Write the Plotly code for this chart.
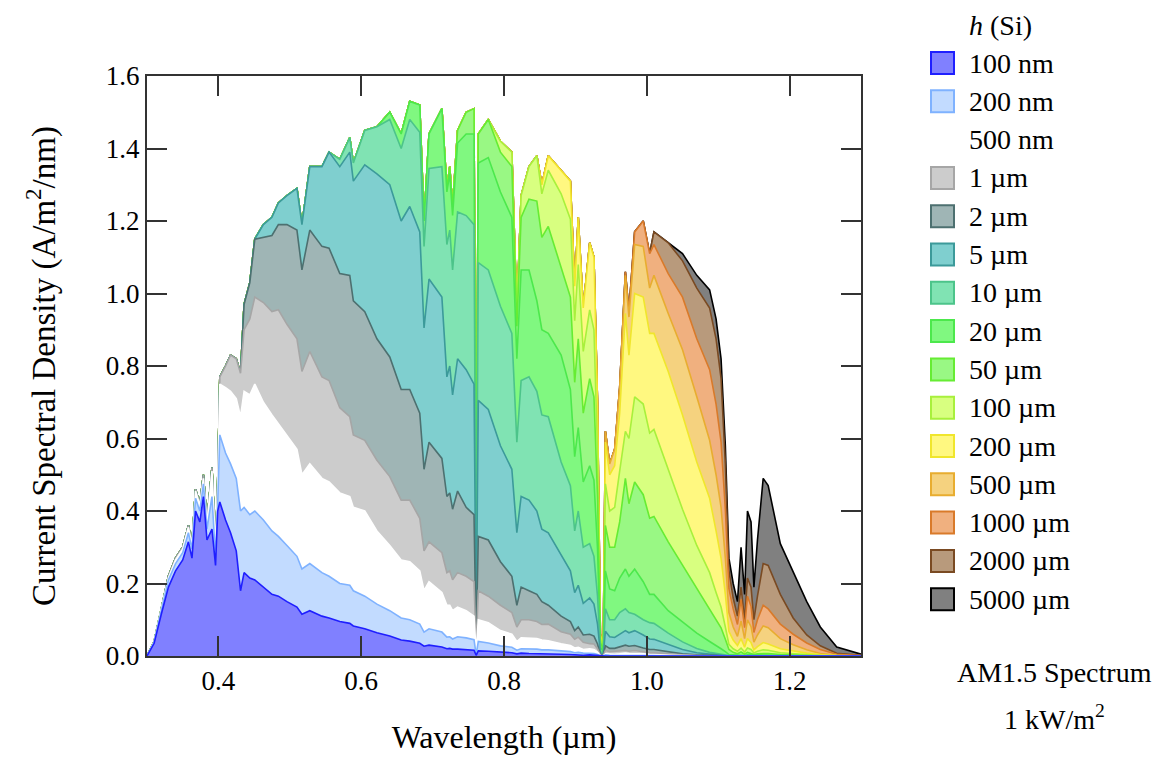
import plotly.graph_objects as go

# Wavelength grid (µm)
wavelength = [
    0.300, 0.310, 0.320, 0.330, 0.340, 0.350, 0.358, 0.363, 0.368, 0.374,
    0.379, 0.384, 0.391, 0.396, 0.399, 0.402, 0.410, 0.417, 0.425, 0.431,
    0.436, 0.444, 0.451, 0.463, 0.475, 0.484, 0.496, 0.510, 0.517, 0.528,
    0.545, 0.555, 0.570, 0.584, 0.589, 0.605, 0.622, 0.640, 0.656, 0.668,
    0.682, 0.688, 0.695, 0.713, 0.720, 0.724, 0.728, 0.735, 0.747, 0.758,
    0.761, 0.764, 0.778, 0.795, 0.811, 0.818, 0.824, 0.835, 0.846, 0.853,
    0.862, 0.880, 0.893, 0.899, 0.904, 0.911, 0.920, 0.926, 0.931, 0.935,
    0.939, 0.942, 0.948, 0.955, 0.962, 0.970, 0.975, 0.983, 0.995, 1.004,
    1.010, 1.030, 1.050, 1.070, 1.088, 1.097, 1.104, 1.110, 1.115, 1.121,
    1.127, 1.132, 1.137, 1.141, 1.146, 1.150, 1.155, 1.163, 1.170, 1.187,
    1.205, 1.224, 1.243, 1.266, 1.300]

# Current spectral density (A/m^2/nm) absorbed in a Si layer of thickness h
j_5000um = [
    0.00, 0.04, 0.13, 0.22, 0.27, 0.30, 0.36, 0.31, 0.46, 0.42,
    0.50, 0.37, 0.52, 0.30, 0.48, 0.77, 0.80, 0.83, 0.82, 0.78,
    0.97, 1.03, 1.15, 1.19, 1.21, 1.25, 1.27, 1.29, 1.19, 1.35,
    1.35, 1.39, 1.37, 1.43, 1.36, 1.45, 1.46, 1.50, 1.44, 1.53,
    1.52, 1.20, 1.44, 1.51, 1.29, 1.35, 1.24, 1.45, 1.50, 1.51,
    0.14, 1.44, 1.48, 1.42, 1.39, 0.95, 1.27, 1.35, 1.38, 1.30,
    1.38, 1.34, 1.31, 1.02, 1.21, 0.96, 1.14, 1.10, 0.70, 0.06,
    0.03, 0.62, 0.53, 0.57, 0.74, 1.06, 0.95, 1.17, 1.20, 1.11,
    1.17, 1.14, 1.11, 1.05, 1.01, 0.93, 0.82, 0.58, 0.27, 0.20,
    0.15, 0.30, 0.17, 0.40, 0.37, 0.19, 0.32, 0.49, 0.47, 0.31,
    0.23, 0.15, 0.08, 0.025, 0.005]

j_2000um = [
    0.00, 0.04, 0.13, 0.22, 0.27, 0.30, 0.36, 0.31, 0.46, 0.42,
    0.50, 0.37, 0.52, 0.30, 0.48, 0.77, 0.80, 0.83, 0.82, 0.78,
    0.97, 1.03, 1.15, 1.19, 1.21, 1.25, 1.27, 1.29, 1.19, 1.35,
    1.35, 1.39, 1.37, 1.43, 1.36, 1.45, 1.46, 1.50, 1.44, 1.53,
    1.52, 1.20, 1.44, 1.51, 1.29, 1.35, 1.24, 1.45, 1.50, 1.51,
    0.14, 1.44, 1.48, 1.42, 1.39, 0.95, 1.27, 1.35, 1.38, 1.30,
    1.38, 1.34, 1.31, 1.02, 1.21, 0.96, 1.14, 1.10, 0.70, 0.06,
    0.03, 0.62, 0.53, 0.57, 0.74, 1.06, 0.95, 1.17, 1.20, 1.11,
    1.17, 1.14, 1.09, 1.015, 0.96, 0.875, 0.765, 0.53, 0.235, 0.16,
    0.11, 0.19, 0.10, 0.215, 0.19, 0.10, 0.165, 0.255, 0.25, 0.17,
    0.105, 0.058, 0.028, 0.0075, 0.002]

j_1000um = [
    0.00, 0.04, 0.13, 0.22, 0.27, 0.30, 0.36, 0.31, 0.46, 0.42,
    0.50, 0.37, 0.52, 0.30, 0.48, 0.77, 0.80, 0.83, 0.82, 0.78,
    0.97, 1.03, 1.15, 1.19, 1.21, 1.25, 1.27, 1.29, 1.19, 1.35,
    1.35, 1.39, 1.37, 1.43, 1.36, 1.45, 1.46, 1.50, 1.44, 1.53,
    1.52, 1.20, 1.44, 1.51, 1.29, 1.35, 1.24, 1.45, 1.50, 1.51,
    0.14, 1.44, 1.48, 1.42, 1.39, 0.95, 1.27, 1.35, 1.38, 1.30,
    1.38, 1.34, 1.31, 1.02, 1.21, 0.96, 1.14, 1.10, 0.70, 0.06,
    0.03, 0.62, 0.53, 0.57, 0.74, 1.06, 0.95, 1.17, 1.20, 1.11,
    1.135, 1.055, 0.99, 0.875, 0.79, 0.695, 0.59, 0.405, 0.185, 0.13,
    0.087, 0.156, 0.078, 0.165, 0.137, 0.065, 0.10, 0.14, 0.13, 0.088,
    0.06, 0.036, 0.018, 0.005, 0.001]

j_500um = [
    0.00, 0.04, 0.13, 0.22, 0.27, 0.30, 0.36, 0.31, 0.46, 0.42,
    0.50, 0.37, 0.52, 0.30, 0.48, 0.77, 0.80, 0.83, 0.82, 0.78,
    0.97, 1.03, 1.15, 1.19, 1.21, 1.25, 1.27, 1.29, 1.19, 1.35,
    1.35, 1.39, 1.37, 1.43, 1.36, 1.45, 1.46, 1.50, 1.44, 1.53,
    1.52, 1.20, 1.44, 1.51, 1.29, 1.35, 1.24, 1.45, 1.50, 1.51,
    0.14, 1.44, 1.48, 1.42, 1.39, 0.95, 1.27, 1.35, 1.38, 1.30,
    1.38, 1.34, 1.31, 1.02, 1.21, 0.96, 1.14, 1.10, 0.70, 0.06,
    0.03, 0.62, 0.53, 0.57, 0.74, 1.05, 0.935, 1.135, 1.13, 1.015,
    1.05, 0.945, 0.845, 0.715, 0.595, 0.50, 0.41, 0.27, 0.12, 0.08,
    0.054, 0.096, 0.048, 0.10, 0.081, 0.038, 0.058, 0.083, 0.078, 0.048,
    0.031, 0.017, 0.007, 0.002, 0.0]

j_200um = [
    0.00, 0.04, 0.13, 0.22, 0.27, 0.30, 0.36, 0.31, 0.46, 0.42,
    0.50, 0.37, 0.52, 0.30, 0.48, 0.77, 0.80, 0.83, 0.82, 0.78,
    0.97, 1.03, 1.15, 1.19, 1.21, 1.25, 1.27, 1.29, 1.19, 1.35,
    1.35, 1.39, 1.37, 1.43, 1.36, 1.45, 1.46, 1.50, 1.44, 1.53,
    1.52, 1.20, 1.44, 1.51, 1.29, 1.35, 1.24, 1.45, 1.50, 1.51,
    0.14, 1.44, 1.48, 1.42, 1.39, 0.95, 1.27, 1.35, 1.38, 1.30,
    1.38, 1.34, 1.31, 1.02, 1.21, 0.96, 1.14, 1.10, 0.70, 0.058,
    0.029, 0.59, 0.50, 0.525, 0.67, 0.945, 0.83, 1.0, 0.99, 0.89,
    0.89, 0.785, 0.665, 0.535, 0.435, 0.345, 0.27, 0.17, 0.068, 0.044,
    0.029, 0.048, 0.024, 0.048, 0.037, 0.017, 0.026, 0.037, 0.033, 0.02,
    0.014, 0.008, 0.004, 0.001, 0.0]

j_100um = [
    0.00, 0.04, 0.13, 0.22, 0.27, 0.30, 0.36, 0.31, 0.46, 0.42,
    0.50, 0.37, 0.52, 0.30, 0.48, 0.77, 0.80, 0.83, 0.82, 0.78,
    0.97, 1.03, 1.15, 1.19, 1.21, 1.25, 1.27, 1.29, 1.19, 1.35,
    1.35, 1.39, 1.37, 1.43, 1.36, 1.45, 1.46, 1.50, 1.44, 1.53,
    1.52, 1.20, 1.44, 1.51, 1.29, 1.35, 1.24, 1.45, 1.50, 1.51,
    0.14, 1.44, 1.48, 1.42, 1.39, 0.95, 1.27, 1.35, 1.38, 1.275,
    1.34, 1.275, 1.205, 0.925, 1.08, 0.84, 0.955, 0.90, 0.56, 0.047,
    0.023, 0.475, 0.40, 0.41, 0.51, 0.62, 0.60, 0.715, 0.695, 0.615,
    0.625, 0.515, 0.405, 0.305, 0.23, 0.175, 0.135, 0.08, 0.032, 0.02,
    0.013, 0.022, 0.011, 0.022, 0.018, 0.0085, 0.013, 0.017, 0.016, 0.009,
    0.006, 0.004, 0.002, 0.001, 0.0]

j_50um = [
    0.00, 0.04, 0.13, 0.22, 0.27, 0.30, 0.36, 0.31, 0.46, 0.42,
    0.50, 0.37, 0.52, 0.30, 0.48, 0.77, 0.80, 0.83, 0.82, 0.78,
    0.97, 1.03, 1.15, 1.19, 1.21, 1.25, 1.27, 1.29, 1.19, 1.35,
    1.35, 1.39, 1.37, 1.43, 1.36, 1.45, 1.46, 1.50, 1.44, 1.53,
    1.52, 1.20, 1.44, 1.51, 1.29, 1.35, 1.24, 1.45, 1.50, 1.51,
    0.14, 1.44, 1.48, 1.39, 1.35, 0.91, 1.21, 1.26, 1.255, 1.155,
    1.185, 1.07, 0.99, 0.755, 0.875, 0.67, 0.765, 0.715, 0.44, 0.037,
    0.018, 0.36, 0.30, 0.30, 0.37, 0.49, 0.42, 0.48, 0.445, 0.38,
    0.385, 0.315, 0.25, 0.185, 0.13, 0.10, 0.078, 0.046, 0.018, 0.01,
    0.006, 0.011, 0.005, 0.01, 0.007, 0.004, 0.006, 0.007, 0.007, 0.004,
    0.002, 0.001, 0.0, 0.0, 0.0]

j_20um = [
    0.00, 0.04, 0.13, 0.22, 0.27, 0.30, 0.36, 0.31, 0.46, 0.42,
    0.50, 0.37, 0.52, 0.30, 0.48, 0.77, 0.80, 0.83, 0.82, 0.78,
    0.97, 1.03, 1.15, 1.19, 1.21, 1.25, 1.27, 1.29, 1.19, 1.35,
    1.35, 1.39, 1.37, 1.43, 1.36, 1.45, 1.46, 1.50, 1.44, 1.53,
    1.52, 1.20, 1.44, 1.51, 1.28, 1.33, 1.215, 1.415, 1.44, 1.44,
    0.13, 1.36, 1.375, 1.28, 1.21, 0.82, 1.065, 1.065, 0.98, 0.90,
    0.89, 0.83, 0.735, 0.55, 0.63, 0.48, 0.525, 0.485, 0.295, 0.025,
    0.012, 0.235, 0.185, 0.18, 0.215, 0.24, 0.22, 0.24, 0.205, 0.17,
    0.17, 0.125, 0.094, 0.063, 0.04, 0.03, 0.02, 0.012, 0.004, 0.003,
    0.002, 0.003, 0.001, 0.003, 0.003, 0.001, 0.002, 0.003, 0.003, 0.002,
    0.001, 0.0, 0.0, 0.0, 0.0]

j_10um = [
    0.00, 0.04, 0.13, 0.22, 0.27, 0.30, 0.36, 0.31, 0.46, 0.42,
    0.50, 0.37, 0.52, 0.30, 0.48, 0.77, 0.80, 0.83, 0.82, 0.78,
    0.97, 1.03, 1.15, 1.19, 1.21, 1.25, 1.27, 1.29, 1.19, 1.35,
    1.35, 1.39, 1.37, 1.43, 1.36, 1.45, 1.46, 1.48, 1.40, 1.48,
    1.445, 1.13, 1.345, 1.35, 1.135, 1.175, 1.065, 1.225, 1.215, 1.19,
    0.11, 1.085, 1.065, 0.965, 0.89, 0.59, 0.76, 0.77, 0.73, 0.665,
    0.66, 0.535, 0.47, 0.345, 0.40, 0.30, 0.31, 0.275, 0.165, 0.013,
    0.006, 0.13, 0.10, 0.10, 0.12, 0.13, 0.12, 0.115, 0.10, 0.092,
    0.09, 0.063, 0.039, 0.021, 0.01, 0.0065, 0.004, 0.002, 0.001, 0.0,
    0.0, 0.0, 0.0, 0.0, 0.0, 0.0, 0.0, 0.0, 0.0, 0.0,
    0.0, 0.0, 0.0, 0.0, 0.0]

j_5um = [
    0.00, 0.04, 0.13, 0.22, 0.27, 0.30, 0.36, 0.31, 0.46, 0.42,
    0.50, 0.37, 0.52, 0.30, 0.48, 0.77, 0.80, 0.83, 0.82, 0.78,
    0.97, 1.03, 1.15, 1.19, 1.21, 1.25, 1.27, 1.29, 1.19, 1.35,
    1.35, 1.39, 1.35, 1.39, 1.31, 1.355, 1.33, 1.30, 1.20, 1.24,
    1.17, 0.905, 1.04, 0.99, 0.77, 0.80, 0.72, 0.82, 0.79, 0.75,
    0.07, 0.705, 0.68, 0.58, 0.515, 0.34, 0.44, 0.43, 0.40, 0.35,
    0.34, 0.28, 0.235, 0.175, 0.195, 0.145, 0.16, 0.143, 0.088, 0.007,
    0.003, 0.068, 0.053, 0.051, 0.059, 0.07, 0.064, 0.07, 0.058, 0.047,
    0.046, 0.031, 0.018, 0.009, 0.005, 0.003, 0.002, 0.001, 0.0, 0.0,
    0.0, 0.0, 0.0, 0.0, 0.0, 0.0, 0.0, 0.0, 0.0, 0.0,
    0.0, 0.0, 0.0, 0.0, 0.0]

j_2um = [
    0.00, 0.04, 0.13, 0.22, 0.27, 0.30, 0.36, 0.31, 0.46, 0.42,
    0.50, 0.37, 0.52, 0.30, 0.48, 0.77, 0.80, 0.83, 0.82, 0.78,
    0.97, 1.03, 1.15, 1.155, 1.16, 1.19, 1.19, 1.175, 1.065, 1.175,
    1.13, 1.125, 1.055, 1.05, 0.98, 0.95, 0.875, 0.825, 0.735, 0.735,
    0.67, 0.515, 0.59, 0.545, 0.44, 0.45, 0.405, 0.455, 0.41, 0.39,
    0.04, 0.33, 0.32, 0.26, 0.22, 0.14, 0.19, 0.18, 0.17, 0.15,
    0.14, 0.11, 0.095, 0.07, 0.08, 0.058, 0.06, 0.055, 0.033, 0.003,
    0.0015, 0.028, 0.021, 0.021, 0.025, 0.03, 0.027, 0.029, 0.022, 0.018,
    0.018, 0.011, 0.006, 0.003, 0.001, 0.0, 0.0, 0.0, 0.0, 0.0,
    0.0, 0.0, 0.0, 0.0, 0.0, 0.0, 0.0, 0.0, 0.0, 0.0,
    0.0, 0.0, 0.0, 0.0, 0.0]

j_1um = [
    0.00, 0.04, 0.13, 0.22, 0.27, 0.30, 0.36, 0.31, 0.46, 0.42,
    0.50, 0.37, 0.52, 0.30, 0.48, 0.77, 0.80, 0.83, 0.82, 0.78,
    0.90, 0.93, 0.99, 0.975, 0.95, 0.955, 0.915, 0.875, 0.785, 0.84,
    0.77, 0.76, 0.685, 0.66, 0.61, 0.595, 0.54, 0.495, 0.43, 0.43,
    0.38, 0.29, 0.315, 0.285, 0.23, 0.235, 0.21, 0.23, 0.22, 0.205,
    0.02, 0.18, 0.165, 0.14, 0.12, 0.08, 0.10, 0.10, 0.095, 0.087,
    0.088, 0.067, 0.06, 0.046, 0.052, 0.038, 0.034, 0.033, 0.02, 0.002,
    0.001, 0.015, 0.012, 0.012, 0.014, 0.015, 0.013, 0.015, 0.011, 0.009,
    0.009, 0.005, 0.003, 0.001, 0.0, 0.0, 0.0, 0.0, 0.0, 0.0,
    0.0, 0.0, 0.0, 0.0, 0.0, 0.0, 0.0, 0.0, 0.0, 0.0,
    0.0, 0.0, 0.0, 0.0, 0.0]

j_500nm = [
    0.00, 0.04, 0.13, 0.215, 0.265, 0.295, 0.355, 0.305, 0.455, 0.415,
    0.49, 0.365, 0.51, 0.295, 0.47, 0.75, 0.74, 0.73, 0.71, 0.66,
    0.73, 0.72, 0.75, 0.70, 0.665, 0.64, 0.61, 0.57, 0.50, 0.53,
    0.49, 0.48, 0.45, 0.44, 0.41, 0.40, 0.345, 0.305, 0.265, 0.26,
    0.235, 0.18, 0.205, 0.175, 0.14, 0.14, 0.125, 0.135, 0.125, 0.11,
    0.01, 0.10, 0.092, 0.07, 0.06, 0.04, 0.05, 0.05, 0.048, 0.044,
    0.042, 0.034, 0.029, 0.022, 0.024, 0.018, 0.02, 0.018, 0.011, 0.001,
    0.0, 0.006, 0.005, 0.005, 0.006, 0.008, 0.007, 0.007, 0.006, 0.004,
    0.004, 0.002, 0.001, 0.0, 0.0, 0.0, 0.0, 0.0, 0.0, 0.0,
    0.0, 0.0, 0.0, 0.0, 0.0, 0.0, 0.0, 0.0, 0.0, 0.0,
    0.0, 0.0, 0.0, 0.0, 0.0]

j_200nm = [
    0.00, 0.038, 0.125, 0.21, 0.255, 0.285, 0.34, 0.295, 0.435, 0.40,
    0.475, 0.35, 0.44, 0.27, 0.42, 0.61, 0.56, 0.53, 0.49, 0.40,
    0.41, 0.39, 0.40, 0.375, 0.345, 0.33, 0.305, 0.275, 0.24, 0.255,
    0.23, 0.22, 0.20, 0.195, 0.18, 0.165, 0.143, 0.125, 0.105, 0.10,
    0.088, 0.066, 0.075, 0.066, 0.052, 0.053, 0.047, 0.053, 0.05, 0.045,
    0.004, 0.04, 0.036, 0.028, 0.024, 0.016, 0.02, 0.02, 0.019, 0.017,
    0.017, 0.014, 0.012, 0.009, 0.01, 0.008, 0.008, 0.007, 0.004, 0.0,
    0.0, 0.003, 0.002, 0.002, 0.002, 0.003, 0.002, 0.002, 0.002, 0.001,
    0.001, 0.0, 0.0, 0.0, 0.0, 0.0, 0.0, 0.0, 0.0, 0.0,
    0.0, 0.0, 0.0, 0.0, 0.0, 0.0, 0.0, 0.0, 0.0, 0.0,
    0.0, 0.0, 0.0, 0.0, 0.0]

j_100nm = [
    0.00, 0.035, 0.115, 0.19, 0.235, 0.265, 0.315, 0.27, 0.40, 0.37,
    0.44, 0.32, 0.35, 0.25, 0.40, 0.425, 0.375, 0.34, 0.29, 0.18,
    0.23, 0.215, 0.21, 0.19, 0.17, 0.165, 0.15, 0.135, 0.115, 0.125,
    0.11, 0.105, 0.095, 0.09, 0.083, 0.075, 0.064, 0.055, 0.044, 0.041,
    0.035, 0.027, 0.03, 0.025, 0.02, 0.021, 0.019, 0.019, 0.017, 0.016,
    0.002, 0.014, 0.013, 0.011, 0.009, 0.006, 0.008, 0.007, 0.007, 0.006,
    0.006, 0.005, 0.004, 0.003, 0.003, 0.002, 0.003, 0.002, 0.001, 0.0,
    0.0, 0.0, 0.0, 0.0, 0.0, 0.0, 0.0, 0.0, 0.0, 0.0,
    0.0, 0.0, 0.0, 0.0, 0.0, 0.0, 0.0, 0.0, 0.0, 0.0,
    0.0, 0.0, 0.0, 0.0, 0.0, 0.0, 0.0, 0.0, 0.0, 0.0,
    0.0, 0.0, 0.0, 0.0, 0.0]

x_ticks = [0.4, 0.6, 0.8, 1.0, 1.2]
x_tick_labels = ["0.4", "0.6", "0.8", "1.0", "1.2"]
y_ticks = [0.0, 0.2, 0.4, 0.6, 0.8, 1.0, 1.2, 1.4, 1.6]
y_tick_labels = ["0.0", "0.2", "0.4", "0.6", "0.8", "1.0", "1.2", "1.4", "1.6"]

# (label, values, fill colour, outline colour), thinnest layer first
series = [
    ("100 nm", j_100nm, "#8080ff", "#1f1fff"),
    ("200 nm", j_200nm, "#c2dbff", "#7fb2ff"),
    ("500 nm", j_500nm, "#ffffff", "#ffffff"),
    ("1 µm", j_1um, "#cccccc", "#a6a6a6"),
    ("2 µm", j_2um, "#9fb5b5", "#4d7070"),
    ("5 µm", j_5um, "#7fcfcf", "#3c9a9a"),
    ("10 µm", j_10um, "#80e3b3", "#4cc48a"),
    ("20 µm", j_20um, "#80f880", "#4ce84c"),
    ("50 µm", j_50um, "#99f884", "#66ec33"),
    ("100 µm", j_100um, "#d8ff80", "#a8f03c"),
    ("200 µm", j_200um, "#fff880", "#f0e62c"),
    ("500 µm", j_500um, "#f5d27f", "#e8ad30"),
    ("1000 µm", j_1000um, "#f0b07f", "#d97a2a"),
    ("2000 µm", j_2000um, "#b89a7c", "#7a4a22"),
    ("5000 µm", j_5000um, "#808080", "#000000"),
]

FONT = "Liberation Serif"
FS_TICK = 27
FS_KEY = 28
FS_TITLE = 32
W, H = 1162, 761
ML, MR, MT, MB = 147, 301, 76, 105
PW, PH = W - ML - MR, H - MT - MB


def paper_x(px):
    return (px - ML) / PW


def paper_y(py):
    return (H - MB - py) / PH


fig = go.Figure()

# thickest layer at the back, thinnest in front
for label, vals, fill, line in reversed(series):
    fig.add_trace(go.Scatter(
        x=wavelength, y=vals, name=label, mode="lines",
        fill="tozeroy", fillcolor=fill,
        line=dict(color=line, width=1.6),
        showlegend=False, hoverinfo="x+y+name",
    ))

shapes = []
annotations = []

# key: swatches and labels to the right of the axes
for i, (label, vals, fill, line) in enumerate(series):
    cy = 63 + 38.3 * i
    shapes.append(dict(
        type="rect", xref="paper", yref="paper",
        x0=paper_x(931), x1=paper_x(954),
        y0=paper_y(cy + 11), y1=paper_y(cy - 11),
        fillcolor=fill, line=dict(color=line, width=2),
    ))
    annotations.append(dict(
        xref="paper", yref="paper", x=paper_x(967), y=paper_y(cy),
        xanchor="left", yanchor="middle", text=label, showarrow=False,
        font=dict(family=FONT, size=FS_KEY, color="black"),
    ))

annotations.append(dict(
    xref="paper", yref="paper", x=paper_x(967), y=paper_y(26),
    xanchor="left", yanchor="middle", text="<i>h</i> (Si)", showarrow=False,
    font=dict(family=FONT, size=FS_KEY, color="black"),
))
annotations.append(dict(
    xref="paper", yref="paper", x=paper_x(1054), y=paper_y(672),
    xanchor="center", yanchor="middle", text="AM1.5 Spectrum", showarrow=False,
    font=dict(family=FONT, size=FS_KEY, color="black"),
))
annotations.append(dict(
    xref="paper", yref="paper", x=paper_x(1054), y=paper_y(717),
    xanchor="center", yanchor="middle", text="1 kW/m<sup>2</sup>", showarrow=False,
    font=dict(family=FONT, size=FS_KEY, color="black"),
))

axis_style = dict(
    showline=True, linecolor="#333333", linewidth=2, mirror="ticks",
    ticks="inside", ticklen=20, tickwidth=2, tickcolor="#333333",
    showgrid=False, zeroline=False,
    tickfont=dict(family=FONT, size=FS_TICK, color="black"),
)

fig.update_layout(
    width=W, height=H, autosize=False,
    margin=dict(l=ML, r=MR, t=MT, b=MB),
    paper_bgcolor="white", plot_bgcolor="white",
    font=dict(family=FONT, size=FS_TICK, color="black"),
    xaxis=dict(range=[0.3, 1.3], tickvals=x_ticks, ticktext=x_tick_labels,
               title=dict(text="Wavelength (µm)", standoff=30,
                          font=dict(family=FONT, size=FS_TITLE)),
               **axis_style),
    yaxis=dict(range=[0, 1.6], tickvals=y_ticks, ticktext=y_tick_labels,
               title=dict(text="Current Spectral Density (A/m<sup>2</sup>/nm)",
                          standoff=40, font=dict(family=FONT, size=33)),
               **axis_style),
    shapes=shapes, annotations=annotations,
    showlegend=False,
)

fig.write_html("out.html")
